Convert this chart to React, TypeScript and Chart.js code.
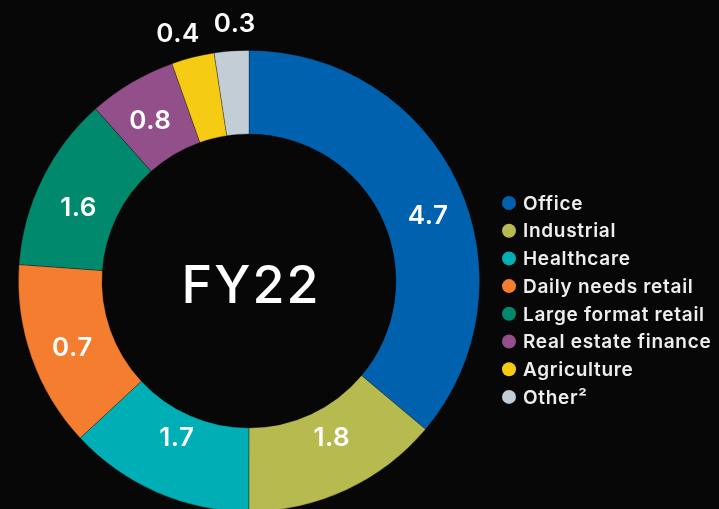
import React, { useEffect, useRef } from "react";
import { Chart, registerables } from "chart.js";

Chart.register(...registerables);

// ---- data ----
const categories = [
  "Office",
  "Industrial",
  "Healthcare",
  "Daily needs retail",
  "Large format retail",
  "Real estate finance",
  "Agriculture",
  "Other²",
];
// share of the ring each slice occupies (degrees, as drawn)
const sliceShares = [130, 50, 47, 47, 44.2, 22.2, 10.8, 8.7];
// values printed on the slices
const valueLabels = ["4.7", "1.8", "1.7", "0.7", "1.6", "0.8", "0.4", "0.3"];
const sliceColors = [
  "#0062AE",
  "#B6BA4F",
  "#00AFB6",
  "#F47D30",
  "#00896C",
  "#934F89",
  "#F5CB14",
  "#C2CDD5",
];
const centerTitle = "FY22";

const FONT = "Inter, 'Noto Sans', sans-serif";

// small polar nudges of the printed values relative to each slice's centre (deg, px)
const labelNudge: [number, number][] = [
  [4.8, 2],
  [-3, -12],
  [1.3, -17],
  [-1.2, 0],
  [-2.7, -3],
  [-0.9, 0],
  [-1.9, 0],
  [1.2, 1],
];

const sliceLabelPlugin = {
  id: "sliceLabels",
  afterDatasetsDraw(chart: any) {
    const meta = chart.getDatasetMeta(0);
    const ctx = chart.ctx as CanvasRenderingContext2D;
    ctx.save();
    ctx.font = `600 26px ${FONT}`;
    (ctx as any).letterSpacing = "0.5px";
    ctx.fillStyle = "#ffffff";
    ctx.textAlign = "center";
    ctx.textBaseline = "middle";
    meta.data.forEach((arc: any, i: number) => {
      const { x, y, startAngle, endAngle, innerRadius, outerRadius } = arc.getProps(
        ["x", "y", "startAngle", "endAngle", "innerRadius", "outerRadius"],
        true
      );
      const [da, dr] = labelNudge[i] || [0, 0];
      const mid = (startAngle + endAngle) / 2 + (da * Math.PI) / 180;
      const span = endAngle - startAngle;
      const r = (span < 0.25 ? outerRadius + 27 : (innerRadius + outerRadius) / 2) + dr;
      ctx.fillText(valueLabels[i], x + Math.cos(mid) * r, y + Math.sin(mid) * r + 1);
    });
    ctx.restore();
  },
};

const centerAndLegendPlugin = {
  id: "centerAndLegend",
  afterDraw(chart: any) {
    const ctx = chart.ctx as CanvasRenderingContext2D;
    const meta = chart.getDatasetMeta(0);
    const arc = meta.data[0];
    ctx.save();
    // center title
    ctx.font = `500 52px ${FONT}`;
    (ctx as any).letterSpacing = "2px";
    ctx.fillStyle = "#ffffff";
    ctx.textAlign = "center";
    ctx.textBaseline = "middle";
    ctx.fillText(centerTitle, arc.x + 2, arc.y + 6);

    // legend
    const labels: string[] = chart.data.labels;
    const colors: string[] = chart.data.datasets[0].backgroundColor;
    const x0 = 509;
    const y0 = 203;
    const step = 27.7;
    ctx.font = `600 19px ${FONT}`;
    (ctx as any).letterSpacing = "0.7px";
    ctx.textAlign = "left";
    labels.forEach((lab, i) => {
      const y = y0 + i * step;
      ctx.beginPath();
      ctx.arc(x0, y, 7, 0, Math.PI * 2);
      ctx.fillStyle = colors[i];
      ctx.fill();
      ctx.fillStyle = "#eeeeee";
      ctx.fillText(lab, x0 + 14, y + 1);
    });
    ctx.restore();
  },
};

export default function App() {
  const canvasRef = useRef<HTMLCanvasElement | null>(null);

  useEffect(() => {
    document.body.style.margin = "0";
    const canvas = canvasRef.current;
    if (!canvas) return;
    const chart = new Chart(canvas, {
      type: "doughnut",
      data: {
        labels: categories,
        datasets: [
          {
            data: sliceShares,
            backgroundColor: sliceColors,
            borderColor: "rgba(0,0,0,0.35)",
            borderWidth: 0.8,
          },
        ],
      },
      options: {
        responsive: false,
        animation: false,
        devicePixelRatio: 1,
        cutout: 147,
        rotation: 0,
        layout: { padding: { left: 18, top: 50, right: 239, bottom: 8 } },
        plugins: {
          legend: { display: false },
          tooltip: { enabled: false },
        },
        events: [],
      },
      plugins: [sliceLabelPlugin, centerAndLegendPlugin],
    });
    return () => chart.destroy();
  }, []);

  return (
    <div
      style={{
        position: "absolute",
        left: 0,
        top: 0,
        width: 719,
        height: 509,
        overflow: "hidden",
        background: "#070707",
      }}
    >
      <canvas ref={canvasRef} width={719} height={520} style={{ width: 719, height: 520, display: "block" }} />
    </div>
  );
}
